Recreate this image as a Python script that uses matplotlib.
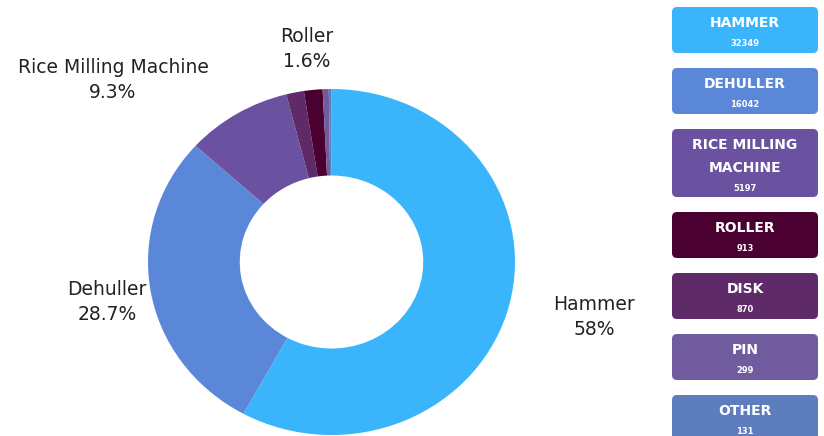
import textwrap

import matplotlib.pyplot as plt
from matplotlib.patches import FancyBboxPatch

categories = ['Hammer', 'Dehuller', 'Rice Milling Machine', 'Roller', 'Disk', 'Pin', 'Other']
counts = [32349, 16042, 5197, 913, 870, 299, 131]
colors = ['#3ab5fb', '#5b87d9', '#6a52a1', '#4a0132', '#5e2a68', '#715b9f', '#5d7dbe']

# order of the wedges going clockwise from 12 o'clock
pie_order = ['Hammer', 'Dehuller', 'Rice Milling Machine', 'Disk', 'Roller', 'Pin', 'Other']

# slices that get an outside label, with label centre in donut units
labelled = {
    'Hammer': (1.43, -0.318),
    'Dehuller': (-1.223, -0.231),
    'Rice Milling Machine': (-1.191, 1.052),
    'Roller': (-0.134, 1.231),
}

W, H = 824, 436


def pct_text(v, total):
    p = round(100.0 * v / total, 1)
    if p == int(p):
        return '%d%%' % int(p)
    return '%.1f%%' % p


def main():
    plt.rcParams['font.family'] = ['DejaVu Sans']
    fig = plt.figure(figsize=(W / 100, H / 100), dpi=100)

    total = sum(counts)
    idx = [categories.index(c) for c in pie_order]

    # donut (slightly wider than tall)
    ax = fig.add_axes([148 / W, 1 / H, 367 / W, 346 / H])
    ax.pie([counts[i] for i in idx], colors=[colors[i] for i in idx],
           startangle=90, counterclock=False, radius=1,
           wedgeprops=dict(width=0.5, edgecolor='none', linewidth=0))
    ax.set_aspect('auto')
    ax.set_xlim(-1, 1)
    ax.set_ylim(-1, 1)
    ax.axis('off')

    for name, (lx, ly) in labelled.items():
        v = counts[categories.index(name)]
        ax.text(lx, ly, name + '\n' + pct_text(v, total), ha='center', va='center',
                fontsize=13.5, color='#222222', linespacing=1.45)

    # legend boxes on the right, in pixel units
    lax = fig.add_axes([672 / W, 0, 146 / W, 1])
    lax.set_xlim(0, 146)
    lax.set_ylim(H, 0)
    lax.axis('off')

    top = 7
    for name, v, c in zip(categories, counts, colors):
        lines = textwrap.fill(name.upper(), 12).split('\n')
        h = 46 + 22 * (len(lines) - 1)
        box = FancyBboxPatch((0, top), 146, h, boxstyle='round,pad=0,rounding_size=5',
                             facecolor=c, edgecolor='none')
        lax.add_patch(box)
        for j, ln in enumerate(lines):
            lax.text(73, top + 16 + 23 * j, ln, ha='center', va='center',
                     color='white', fontsize=10, fontweight='bold')
        lax.text(73, top + 36 + 23 * (len(lines) - 1), str(v), ha='center', va='center',
                 color='white', fontsize=6, fontweight='bold')
        top += h + 15

    fig.savefig('out.png', dpi=100)


if __name__ == '__main__':
    main()
